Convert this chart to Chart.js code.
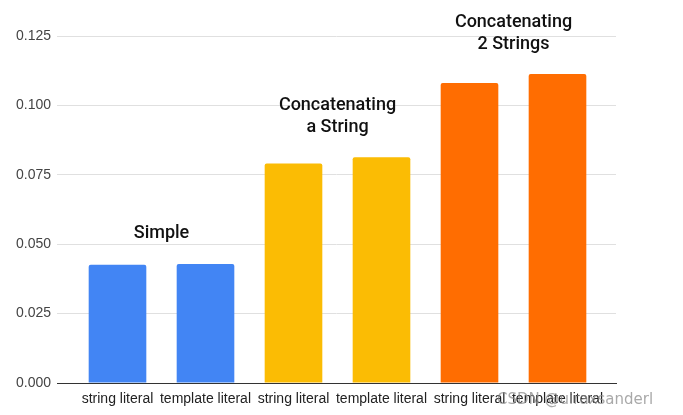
<!DOCTYPE html>
<html><head><meta charset="utf-8">
<script src="https://cdn.jsdelivr.net/npm/chart.js@4"></script>
<style>html,body{margin:0;padding:0;background:#fff}canvas{display:block}</style>
</head><body><canvas id="c" width="683" height="415"></canvas>
<script>
const categories = ['string literal','template literal','string literal','template literal','string literal','template literal'];
const values = [0.0426, 0.0429, 0.0791, 0.0813, 0.1081, 0.1113];
const barColors = ['#4285F4','#4285F4','#FBBC04','#FBBC04','#FF6D01','#FF6D01'];
const groupLabels = [['Simple'],['Concatenating','a String'],['Concatenating','2 Strings']];
const groupMembers = [[0,1],[2,3],[4,5]];
const yTicks = [0, 0.025, 0.05, 0.075, 0.1, 0.125];
const watermark = 'CSDN @uiraxsanderl';

const annotationPlugin = {
  id: 'groupAnnotations',
  afterDatasetsDraw(chart) {
    const {ctx, scales:{x, y}} = chart;
    ctx.save();
    ctx.font = '500 18px Roboto, "Liberation Sans", sans-serif';
    ctx.fillStyle = '#111111';
    ctx.textAlign = 'center';
    ctx.textBaseline = 'alphabetic';
    groupMembers.forEach((m, gi) => {
      const cx = m.reduce((s, i) => s + x.getPixelForValue(i), 0) / m.length;
      const top = Math.min(...m.map(i => y.getPixelForValue(values[i])));
      const lines = groupLabels[gi];
      const lh = 21.5;
      lines.forEach((t, li) => {
        const by = top - 25.5 - (lines.length - 1 - li) * lh;
        ctx.fillText(t, cx, by);
      });
    });
    ctx.font = '15px "DejaVu Sans", sans-serif';
    ctx.fillStyle = 'rgba(140,140,140,0.75)';
    ctx.textAlign = 'left';
    ctx.fillText(watermark, 497, 404);
    ctx.restore();
  }
};

new Chart(document.getElementById('c'), {
  type: 'bar',
  data: {
    datasets: [{
      data: values.map((v, i) => ({x: i, y: v})),
      backgroundColor: barColors,
      borderRadius: 2,
      borderSkipped: 'start',
      barPercentage: 0.655,
      categoryPercentage: 1
    }]
  },
  options: {
    responsive: false,
    animation: false,
    devicePixelRatio: 1,
    layout: {padding: {top: 36, right: 67, left: 0, bottom: 0}},
    plugins: {legend: {display: false}, tooltip: {enabled: false}},
    scales: {
      x: {
        type: 'linear',
        offset: false,
        min: -0.5 - 16.5/88,
        max: 5.5 + 14.5/88,
        afterBuildTicks: s => { s.ticks = categories.map((_, i) => ({value: i})); },
        afterFit: s => { s.height = 32; },
        grid: {display: false, drawTicks: false},
        border: {display: true, color: '#333333', width: 1},
        ticks: {
          autoSkip: false, maxRotation: 0, minRotation: 0, padding: 8,
          color: '#222222',
          font: {family: '"Liberation Sans", Arial, sans-serif', size: 14},
          callback: v => categories[v] ?? ''
        }
      },
      y: {
        min: 0, max: 0.125,
        afterBuildTicks: s => { s.ticks = yTicks.map(v => ({value: v})); },
        afterFit: s => { s.width = 57; },
        grid: {color: '#e0e0e0', drawTicks: false, lineWidth: 1},
        border: {display: false},
        ticks: {
          padding: 6,
          color: '#444444',
          font: {family: '"Liberation Sans", Arial, sans-serif', size: 14},
          callback: v => Number(v).toFixed(3)
        }
      }
    }
  },
  plugins: [annotationPlugin]
});
</script>
</body></html>
